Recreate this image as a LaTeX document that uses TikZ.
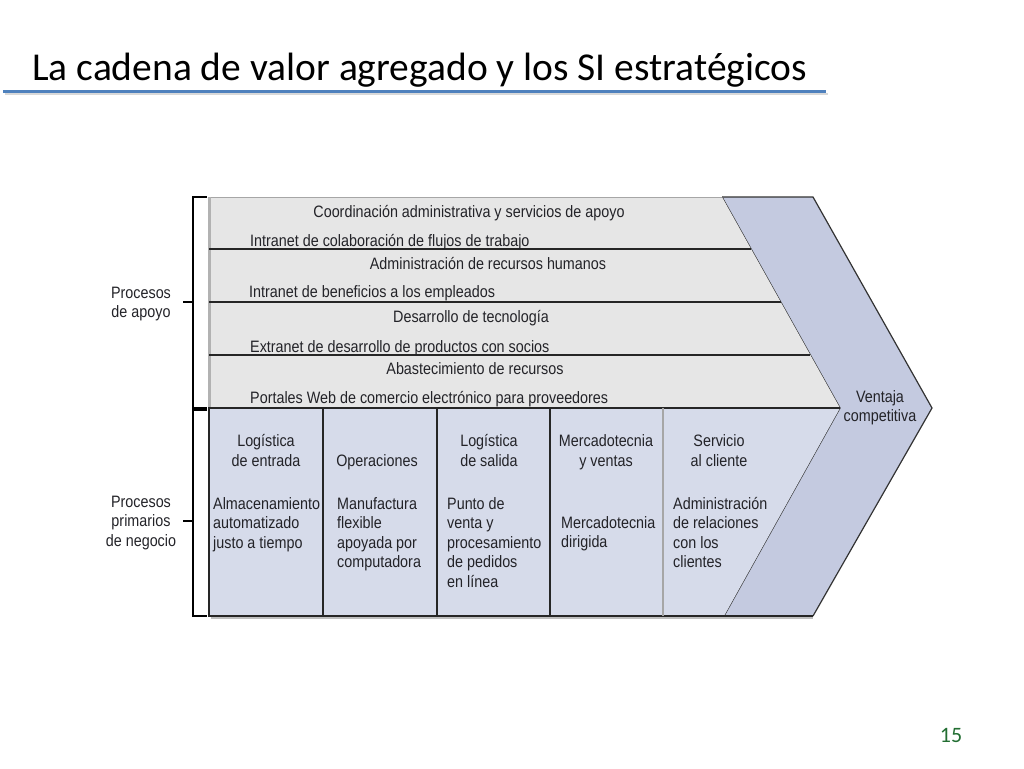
\documentclass[tikz,border=0pt]{standalone}
\usepackage{fontspec}
\setmainfont{Carlito}
\newfontfamily\figfont[FakeStretch=0.87]{Liberation Sans}
\definecolor{titleblue}{RGB}{79,129,189}
\definecolor{supportgray}{RGB}{230,230,230}
\definecolor{primblue}{RGB}{214,219,234}
\definecolor{chevblue}{RGB}{196,202,224}
\definecolor{pagegreen}{RGB}{34,110,50}
\definecolor{figtext}{RGB}{35,35,40}

\begin{document}
\begin{tikzpicture}[x=1pt,y=-1pt,
  figlabel/.style={inner sep=0pt, text=figtext, font=\figfont\fontsize{16.5}{19.5}\selectfont},
  rowtitle/.style={figlabel, anchor=base},
  rowsub/.style={figlabel, anchor=base west},
  colhead/.style={figlabel, anchor=base, align=center},
  colbody/.style={figlabel, anchor=base west, align=left},
  divider/.style={black!85, line width=1.4pt}]

\useasboundingbox (0,0) rectangle (1024,768);

% title and rule
\node[anchor=base west, inner sep=0pt, font=\fontsize{39.5}{48}\selectfont] (title) at (32,80) {La cadena de valor agregado y los SI estratégicos};
\draw[gray!30, line width=2pt] (5,94) -- (828,94);
\draw[titleblue, line width=3pt] (3,91) -- (826,91);

% chevron band
\fill[chevblue] (722,197) -- (813,197) -- (932,408) -- (813,616) -- (724,616) -- (840,408) -- cycle;
\draw[black!80, line width=1.2pt] (722,197) -- (813,197) -- (932,408) -- (813,616);
\draw[black!80, line width=1.2pt] (722,197) -- (840,408) -- (724,616);

% support rows
\fill[supportgray] (209,197) -- (722,197) -- (840,408) -- (209,408) -- cycle;
\draw[gray!70, line width=1pt] (209,197) -- (722,197);
\draw[gray!60, line width=3pt] (209,197) -- (209,408);
\draw[divider] (209,249) -- (751,249);
\draw[divider] (209,302) -- (781,302);
\draw[divider] (209,355) -- (810,355);

% primary activities
\fill[primblue] (209,408) -- (840,408) -- (724,616) -- (209,616) -- cycle;
\draw[gray!50, line width=2pt] (211,618) -- (813,618);
\draw[divider] (840,408) -- (209,408) -- (209,616) -- (813,616);
\draw[divider] (323,408) -- (323,616);
\draw[divider] (437,408) -- (437,616);
\draw[divider] (550,408) -- (550,616);
\draw[gray!70, line width=2pt] (663,408) -- (663,616);

% brackets on the left
\draw[black, line width=1.4pt] (207,197) -- (193,197) -- (193,408) -- (207,408);
\draw[black, line width=1.4pt] (183,302) -- (193,302);
\draw[black, line width=1.4pt] (207,410) -- (193,410) -- (193,616) -- (207,616);
\draw[black, line width=1.4pt] (183,521) -- (193,521);

% support rows text
\node[rowtitle] (coord) at (469,217) {Coordinación administrativa y servicios de apoyo};
\node[rowsub] (coordsub) at (250,246) {Intranet de colaboración de flujos de trabajo};
\node[rowtitle] (rrhh) at (488,269) {Administración de recursos humanos};
\node[rowsub] (rrhhsub) at (249,297) {Intranet de beneficios a los empleados};
\node[rowtitle] (tecno) at (471,322) {Desarrollo de tecnología};
\node[rowsub] (tecnosub) at (250,352) {Extranet de desarrollo de productos con socios};
\node[rowtitle] (abast) at (475,374) {Abastecimiento de recursos};
\node[rowsub] (abastsub) at (250,403) {Portales Web de comercio electrónico para proveedores};

% primary columns text (base = last line)
\node[colhead] (login) at (266,466) {Logística\\de entrada};
\node[colbody] (loginsub) at (213,548) {Almacenamiento\\automatizado\\justo a tiempo};
\node[colhead] (oper) at (377,466) {Operaciones};
\node[colbody] (opersub) at (337,567.5) {Manufactura\\flexible\\apoyada por\\computadora};
\node[colhead] (logout) at (489,466) {Logística\\de salida};
\node[colbody] (logoutsub) at (447,587) {Punto de\\venta y\\procesamiento\\de pedidos\\en línea};
\node[colhead] (merc) at (606,466) {Mercadotecnia\\y ventas};
\node[colbody] (mercsub) at (561,547.5) {Mercadotecnia\\dirigida};
\node[colhead] (serv) at (719,466) {Servicio\\al cliente};
\node[colbody] (servsub) at (673,567.5) {Administración\\de relaciones\\con los\\clientes};

% side labels
\node[colhead] (ventaja) at (880,421.5) {Ventaja\\competitiva};
\node[colhead] (apoyo) at (141,317.5) {Procesos\\de apoyo};
\node[colhead] (primarios) at (141,546) {Procesos\\primarios\\de negocio};

% page number
\node[anchor=base, inner sep=0pt, text=pagegreen, font=\fontsize{22}{26}\selectfont] (page) at (951,742) {15};

\end{tikzpicture}
\end{document}
